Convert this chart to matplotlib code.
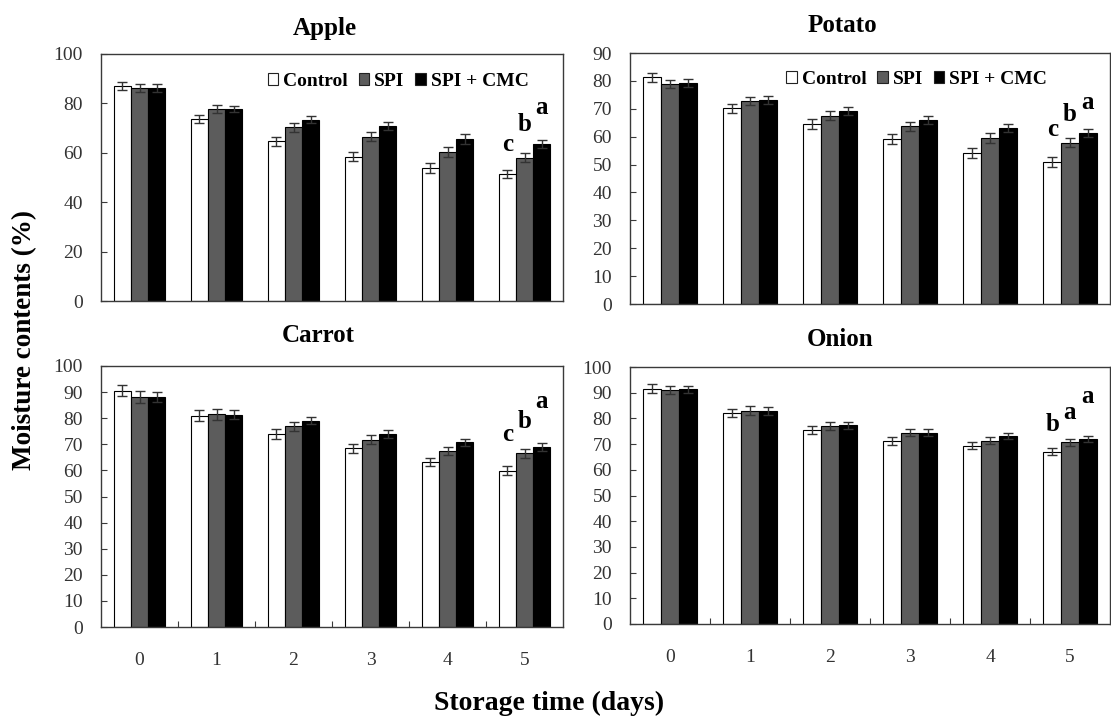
import matplotlib
matplotlib.use("Agg")
import matplotlib.pyplot as plt
import numpy as np
from matplotlib.patches import Patch

plt.rcParams['font.family'] = ['Liberation Serif', 'DejaVu Serif']

days = [0, 1, 2, 3, 4, 5]
day_labels = ['0', '1', '2', '3', '4', '5']
series_names = ['Control', 'SPI', 'SPI + CMC']

apple_control = [87.2, 73.6, 64.7, 58.4, 53.9, 51.5]
apple_spi = [86.1, 77.7, 70.3, 66.5, 60.5, 58.0]
apple_cmc = [86.4, 77.7, 73.4, 70.8, 65.5, 63.6]
apple_err_control = [1.6, 1.6, 1.8, 1.8, 2.1, 1.5]
apple_err_spi = [1.6, 1.5, 1.8, 1.8, 2.0, 1.8]
apple_err_cmc = [1.6, 1.3, 1.5, 1.6, 2.0, 1.6]
apple_letters = ['c', 'b', 'a']

potato_control = [81.3, 70.2, 64.5, 59.2, 54.1, 51.0]
potato_spi = [78.9, 72.9, 67.5, 63.8, 59.5, 57.8]
potato_cmc = [79.2, 73.2, 69.2, 66.1, 63.1, 61.4]
potato_err_control = [1.6, 1.6, 1.8, 1.7, 1.7, 1.7]
potato_err_spi = [1.5, 1.5, 1.7, 1.6, 1.8, 1.6]
potato_err_cmc = [1.4, 1.4, 1.5, 1.4, 1.6, 1.5]
potato_letters = ['c', 'b', 'a']

carrot_control = [90.6, 81.0, 74.0, 68.4, 63.2, 59.9]
carrot_spi = [88.2, 81.5, 76.9, 71.8, 67.4, 66.5]
carrot_cmc = [88.2, 81.4, 79.1, 74.0, 70.8, 69.0]
carrot_err_control = [2.2, 2.2, 1.9, 1.7, 1.7, 1.8]
carrot_err_spi = [2.2, 2.0, 1.8, 1.8, 1.6, 1.8]
carrot_err_cmc = [2.0, 1.8, 1.5, 1.5, 1.4, 1.6]
carrot_letters = ['c', 'b', 'a']

onion_control = [91.6, 82.1, 75.6, 71.2, 69.3, 67.1]
onion_spi = [91.1, 83.0, 76.9, 74.4, 71.4, 70.7]
onion_cmc = [91.3, 83.0, 77.3, 74.4, 73.2, 72.0]
onion_err_control = [1.6, 1.6, 1.6, 1.6, 1.4, 1.5]
onion_err_spi = [1.5, 1.8, 1.6, 1.4, 1.4, 1.3]
onion_err_cmc = [1.5, 1.5, 1.4, 1.4, 1.2, 1.3]
onion_letters = ['b', 'a', 'a']

W, H = 1111, 718
fig = plt.figure(figsize=(W / 100, H / 100), dpi=100)

def rect(l, r, t, b):
    return [l / W, 1 - b / H, (r - l) / W, (b - t) / H]

panels = [
    dict(title='Apple', box=rect(101, 563, 54, 301), ymax=100, step=20,
         vals=[apple_control, apple_spi, apple_cmc],
         errs=[apple_err_control, apple_err_spi, apple_err_cmc],
         letters=apple_letters, legend=(0.361, 0.89), xlabels=False,
         title_xy=(325, 28), loff=[14, 17, 21]),
    dict(title='Potato', box=rect(630, 1110, 53, 304), ymax=90, step=10,
         vals=[potato_control, potato_spi, potato_cmc],
         errs=[potato_err_control, potato_err_spi, potato_err_cmc],
         letters=potato_letters, legend=(0.325, 0.896), xlabels=False,
         title_xy=(842, 26), loff=[16, 12, 15]),
    dict(title='Carrot', box=rect(101, 563, 366, 627), ymax=100, step=10,
         vals=[carrot_control, carrot_spi, carrot_cmc],
         errs=[carrot_err_control, carrot_err_spi, carrot_err_cmc],
         letters=carrot_letters, legend=None, xlabels=True,
         title_xy=(318, 335), loff=[20, 16, 30]),
    dict(title='Onion', box=rect(630, 1110, 367, 624), ymax=100, step=10,
         vals=[onion_control, onion_spi, onion_cmc],
         errs=[onion_err_control, onion_err_spi, onion_err_cmc],
         letters=onion_letters, legend=None, xlabels=True,
         title_xy=(840, 340), loff=[12, 15, 28]),
]

colors = ['white', '#5c5c5c', 'black']
bw = 0.222
x = np.arange(len(days))
spine_c = '#3a3a3a'
tick_c = '#333333'

for p in panels:
    ax = fig.add_axes(p['box'])
    for i in range(3):
        xi = x + (i - 1) * bw
        ax.bar(xi, p['vals'][i], width=bw, color=colors[i], edgecolor='black',
               linewidth=0.8, zorder=2)
        ax.errorbar(xi, p['vals'][i], yerr=p['errs'][i], fmt='none',
                    ecolor='#333333', elinewidth=1.0, capsize=3.5,
                    capthick=1.0, zorder=3)
        top = p['vals'][i][-1] + p['errs'][i][-1]
        ax.annotate(p['letters'][i], xy=(xi[-1], top), xytext=(0, p['loff'][i]),
                    textcoords='offset pixels', ha='center', va='bottom',
                    fontsize=18, fontweight='bold', annotation_clip=False)
    ax.set_xlim(-0.5, 5.5)
    ax.set_ylim(0, p['ymax'])
    ax.set_yticks(np.arange(0, p['ymax'] + 1, p['step']))
    ax.tick_params(axis='y', direction='in', length=4, width=0.8, color=spine_c,
                   labelsize=14, labelcolor=tick_c, pad=13)
    ax.set_xticks(x)
    ax.set_xticks(x[:-1] + 0.5, minor=True)
    if p['xlabels']:
        ax.set_xticklabels(day_labels)
        ax.tick_params(axis='x', which='major', length=0, labelsize=14,
                       labelcolor=tick_c, pad=18)
        ax.tick_params(axis='x', which='minor', direction='in', length=4,
                       width=0.8, color=spine_c)
    else:
        ax.set_xticklabels([])
        ax.tick_params(axis='x', which='both', length=0)
    for s in ax.spines.values():
        s.set_color(spine_c)
        s.set_linewidth(1.0)
    tx, ty = p['title_xy']
    fig.text(tx / W, 1 - ty / H, p['title'],
             ha='center', va='center', fontsize=18, fontweight='bold')
    if p['legend'] is not None:
        handles = [Patch(facecolor=colors[i], edgecolor='#222222', linewidth=0.8)
                   for i in range(3)]
        ax.legend(handles, series_names, loc='center left',
                  bbox_to_anchor=p['legend'], borderaxespad=0, borderpad=0,
                  ncol=3, frameon=False, handlelength=0.55, handleheight=0.55,
                  handletextpad=0.25, columnspacing=0.55,
                  prop={'size': 14, 'weight': 'bold'})

fig.text(25 / W, 1 - 340 / H, 'Moisture contents (%)', rotation=90,
         ha='center', va='center', fontsize=19.5, fontweight='bold')
fig.text(549 / W, 1 - 703 / H, 'Storage time (days)', ha='center', va='center',
         fontsize=20, fontweight='bold')

fig.savefig('out.png', dpi=100)
